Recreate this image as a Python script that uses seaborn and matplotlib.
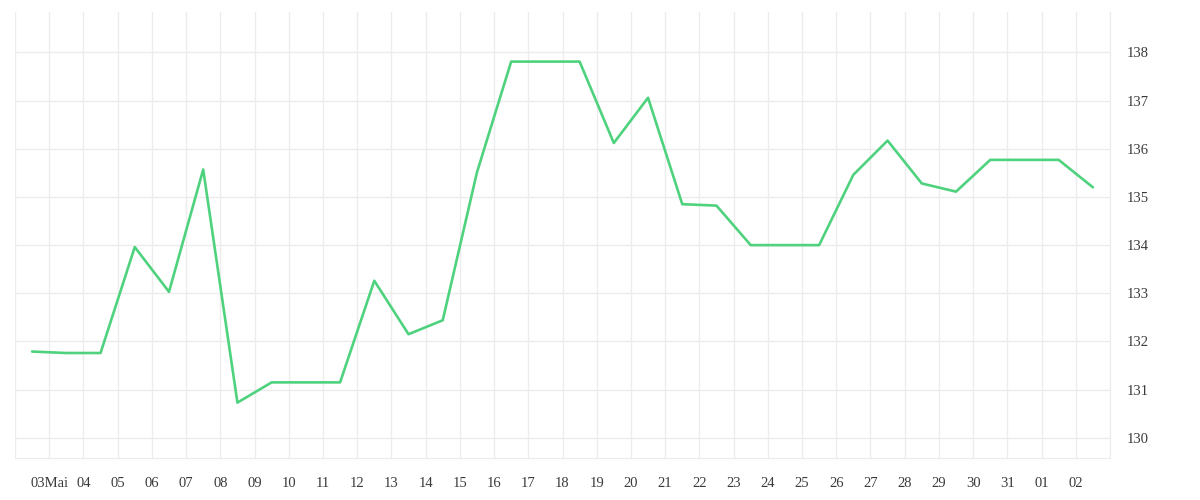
import numpy as np
import pandas as pd
import matplotlib
matplotlib.use("Agg")
import matplotlib.pyplot as plt
import seaborn as sns

# valores (um ponto por dia)
dia = list(range(32))
preco = [131.79, 131.76, 131.76, 133.96, 133.03, 135.57, 130.73, 131.15,
         131.15, 131.15, 133.26, 132.15, 132.44, 135.51, 137.81, 137.81,
         137.81, 136.12, 137.06, 134.85, 134.82, 134.00, 134.00, 134.00,
         135.46, 136.17, 135.28, 135.11, 135.77, 135.77, 135.77, 135.20]

# rótulos do eixo x (nas divisões entre os dias)
rotulos_x = ["", "03Mai", "04", "05", "06", "07", "08", "09", "10", "11", "12",
             "13", "14", "15", "16", "17", "18", "19", "20", "21", "22", "23",
             "24", "25", "26", "27", "28", "29", "30", "31", "01", "02", ""]
ticks_y = [130, 131, 132, 133, 134, 135, 136, 137, 138]

tabela = pd.DataFrame({"dia": dia, "preco": preco})

sns.set_style("white")
plt.rcParams["font.family"] = ["Liberation Serif", "DejaVu Serif"]

cor_grade = "#ececec"
fig = plt.figure(figsize=(12, 5), dpi=100)
ax = fig.add_axes([0.0125, 0.084, 0.9125, 0.892])

sns.lineplot(data=tabela, x="dia", y="preco", color="#4fd27e", linewidth=1.9, ax=ax)

ax.set_xlim(-0.5, 31.5)
ax.set_ylim(129.58, 138.84)

pos_x = np.arange(len(rotulos_x)) - 0.5
ax.set_xticks(pos_x)
ax.set_xticklabels(rotulos_x)
ax.set_yticks(ticks_y)
ax.set_yticklabels([str(v) for v in ticks_y])

ax.yaxis.tick_right()
ax.grid(True, color=cor_grade, linewidth=1)
ax.set_axisbelow(True)
ax.tick_params(axis="x", length=7.5, color=cor_grade, width=1, pad=6,
               labelsize=10.5, labelcolor="#3a3a3a")
ax.tick_params(axis="y", length=0, pad=12, labelsize=10.5, labelcolor="#3a3a3a")

for lado in ["top", "left"]:
    ax.spines[lado].set_visible(False)
ax.spines["right"].set_color(cor_grade)
ax.spines["bottom"].set_color(cor_grade)

ax.set_xlabel("")
ax.set_ylabel("")

fig.savefig("out.png", dpi=100, facecolor="white")
